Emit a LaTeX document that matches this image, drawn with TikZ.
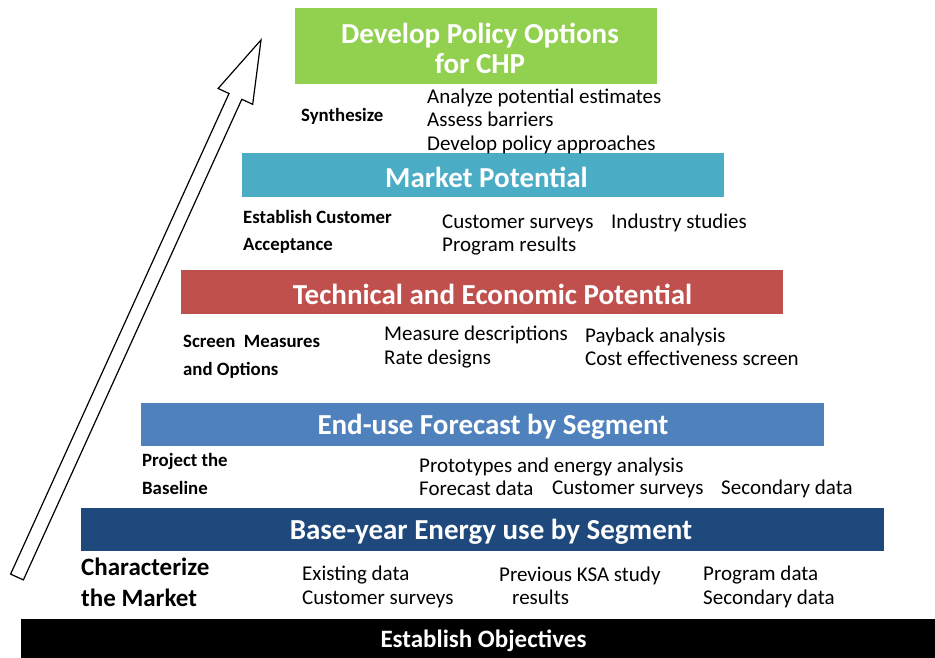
\documentclass[tikz,border=0pt]{standalone}
\usepackage{fontspec}
\setmainfont{Carlito}
\usetikzlibrary{positioning}
\usetikzlibrary{calc}

\definecolor{policygreen}{HTML}{92D050}
\definecolor{marketteal}{HTML}{4BACC6}
\definecolor{technicalred}{HTML}{C0504D}
\definecolor{enduseblue}{HTML}{4F81BD}
\definecolor{basedark}{HTML}{1F497D}

\begin{document}
\begin{tikzpicture}[x=1pt,y=-1pt,
		bar/.style={rectangle, inner sep=0pt},
		title/.style={inner sep=0pt, text=white, align=center,
			font=\fontsize{29}{30}\selectfont\bfseries},
		task/.style={anchor=west, inner sep=0pt, align=left,
			font=\fontsize{18.8}{27.5}\selectfont\bfseries},
		item/.style={anchor=west, inner sep=0pt, align=left,
			font=\fontsize{21}{23.5}\selectfont}]
		\useasboundingbox (0,0) rectangle (935,658);

		% Draw the bars of the pyramid
		\foreach \name/\x/\tx/\y/\w/\h/\col/\txt in {
			policy/476/480/46/362/76/policygreen/{Develop Policy Options\\for CHP},
			market/483/486.5/175/482/44/marketteal/{Market Potential},
			technical/482/492.5/292/602/44/technicalred/{Technical and Economic Potential},
			enduse/482.5/493/424.5/683/43/enduseblue/{End-use Forecast by Segment},
			baseyear/482.5/491/529.5/803/43/basedark/{Base-year Energy use by Segment},
			objectives/478/483.5/638.5/914/39/black/{\fontsize{25}{28}\selectfont Establish Objectives}}
		{
		\node[bar, fill=\col, minimum width=\w, minimum height=\h] (\name) at (\x,\y) {};
		\node[title] (\name title) at (\tx,\y+2) {\txt};
		}

		% Draw the arrow
		\draw[fill=white, line width=1.2pt, line join=miter]
			(10.6,574.1) -- (229.0,93.5) -- (218.1,88.5) -- (261,40)
			-- (252.7,104.3) -- (241.8,99.3) -- (23.4,579.9) -- cycle;

		% Tasks on the left
		\node[task] (synthesize) at (301,116) {Synthesize};
		\node[task] (acceptance) at (243,232) {Establish Customer\\Acceptance};
		\node[task] (screen) at (183,357) {Screen\ \ Measures\\and Options};
		\node[task] (baseline) at (142,474) {Project the\\Baseline};
		\node[task, font=\fontsize{25}{31}\selectfont\bfseries] (characterize) at (81,582) {Characterize\\the Market};

		% Items of each step
		\node[item] (synthitems) at (427,121) {Analyze potential estimates\\Assess barriers\\Develop policy approaches};
		\node[item] (marketa) at (442,235) {Customer surveys\\Program results};
		\node[item] (marketb) at (611,223) {Industry studies};
		\node[item] (technicala) at (384,347) {Measure descriptions\\Rate designs};
		\node[item] (technicalb) at (585,347) {Payback analysis\\Cost effectiveness screen};
		\node[item] (endusea) at (419,477) {Prototypes and energy analysis\\Forecast data};
		\node[item] (enduseb) at (552,489) {Customer surveys};
		\node[item] (endusec) at (721,489) {Secondary data};
		\node[item] (basea) at (302,587) {Existing data\\Customer surveys};
		\node[item] (baseb) at (499,586) {Previous KSA study\\\hspace{13pt}results};
		\node[item] (basec) at (703,587) {Program data\\Secondary data};
\end{tikzpicture}
\end{document}
